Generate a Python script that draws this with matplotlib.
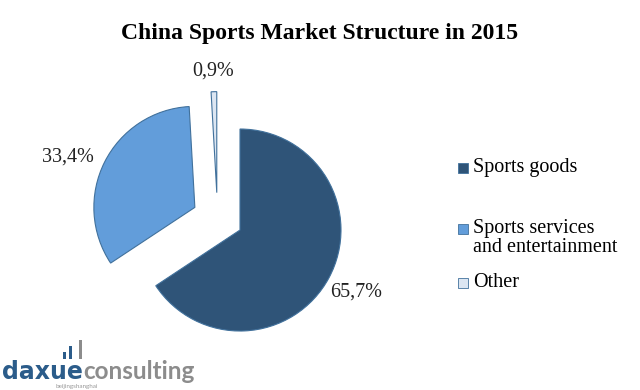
import matplotlib.pyplot as plt
import matplotlib.patches as mpatches
import numpy as np

# data
categories = ["Sports goods", "Sports services\nand entertainment", "Other"]
shares = [65.7, 33.4, 0.9]
pct_labels = ["65,7%", "33,4%", "0,9%"]
colors = ["#2F5478", "#629DDA", "#DCE6F2"]

fig = plt.figure(figsize=(6.4, 3.9), dpi=100)
fig.patch.set_facecolor("white")

# pie axes: 101 px per unit, pie centre at (240, 230) px
ax = fig.add_axes([38 / 640, 0, 404 / 640, 335 / 390])

wedges, _ = ax.pie(shares, colors=colors, startangle=90, counterclock=False,
                   explode=[0, 0.5, 0.37], radius=1.0,
                   wedgeprops=dict(edgecolor="#41719C", linewidth=0.8))
# Excel pushed the tiny slice up and to the left
wedges[2].set_center((-0.23, 0.37))

# pie() sets its own limits, so set them afterwards
ax.set_xlim(-2, 2)
ax.set_ylim(-1.584, 1.733)
ax.set_aspect("equal")
ax.axis("off")

label_dist = [1.3, 1.35, 1.2]
label_turn = [0, 5, 0]
for w, txt, d, t in zip(wedges, pct_labels, label_dist, label_turn):
    ang = np.deg2rad((w.theta1 + w.theta2) / 2 + t)
    cx, cy = w.center
    ax.text(cx + d * np.cos(ang), cy + d * np.sin(ang), txt,
            ha="center", va="center", fontsize=14.5,
            family="Liberation Serif", color="#222222")

fig.text(0.5, 1 - 33 / 390, "China Sports Market Structure in 2015",
         ha="center", va="center", fontsize=17, fontweight="bold",
         family="Liberation Serif")

# legend, drawn by hand to get Excel's uneven spacing
leg_y = [168, 229, 283]
for lab, col, y in zip(categories, colors, leg_y):
    fig.add_artist(mpatches.Rectangle((458 / 640, 1 - (y + 5) / 390), 10 / 640, 10 / 390,
                                      transform=fig.transFigure, facecolor=col,
                                      edgecolor="#41719C", linewidth=0.6))
    fig.text(473 / 640, 1 - (y - 10) / 390, lab, ha="left", va="top",
             fontsize=14.5, family="Liberation Serif", linespacing=1.0)

# logo
bars_x = [63, 69, 79]
bars_h = [7, 13, 19]
bars_c = ["#2B5C8A", "#2B5C8A", "#8C8C8C"]
for bx, bh, bc in zip(bars_x, bars_h, bars_c):
    fig.add_artist(mpatches.Rectangle((bx / 640, 1 - 359 / 390), 3 / 640, bh / 390,
                                      transform=fig.transFigure, facecolor=bc,
                                      edgecolor="none"))
fig.text(2 / 640, 1 - 379 / 390, "daxue", ha="left", va="baseline",
         fontsize=17, fontweight="bold", family="DejaVu Sans", color="#2B5C8A")
fig.text(83 / 640, 1 - 379 / 390, "consulting", ha="left", va="baseline",
         fontsize=17.5, fontweight="bold", family="Lato", color="#8C8C8C")
fig.text(55 / 640, 1 - 388 / 390, "beijingshanghai", ha="left", va="baseline",
         fontsize=4.5, family="Lato", color="#999999")

fig.savefig("out.png", dpi=100, facecolor="white")
